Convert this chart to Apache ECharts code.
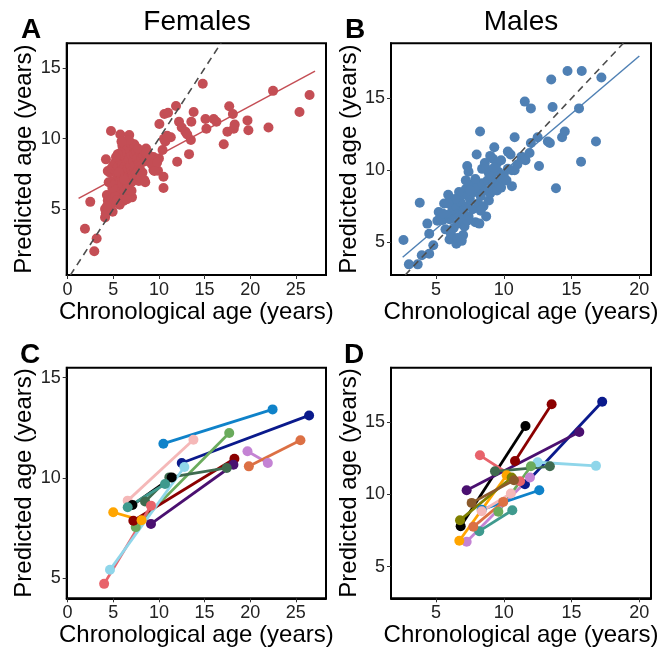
<!DOCTYPE html>
<html>
<head>
<meta charset="utf-8">
<script src="https://cdn.jsdelivr.net/npm/echarts@6/dist/echarts.min.js"></script>
<style>
  html, body { margin: 0; padding: 0; background: #fff; }
  #chart { width: 657px; height: 648px; }
</style>
</head>
<body>
<div id="chart"></div>
<script>
// panel A - females, cross-sectional
const femaleAge = [1.9, 2.48, 3.18, 2.92, 4.93, 4.1, 4.2, 4.3, 4.75, 5.77, 6.75, 6.4, 4.2, 4.4, 4.5,
  6.1, 7.05, 8.59, 8.4, 9.4, 9.9, 9.4, 10.05, 10.6, 11.0, 11.87, 14.8, 13.8, 13.55, 12.2,
  12.5, 12.9, 13.1, 13.5, 13.3, 12.0, 10.4, 10.7, 11.3, 10.5, 10.5, 10.0, 10.55, 10.9,
  15.1, 15.2, 16.0, 16.3, 17.1, 17.7, 18.1, 17.5, 18.2, 18.3, 19.7, 19.8, 22.0, 22.5, 25.4, 26.5,
  4.6, 4.8, 5.0, 5.2, 5.4, 5.5, 5.6, 5.7, 5.8, 5.9, 6.0, 6.0, 6.1, 6.2, 6.3, 6.4, 6.5, 6.5,
  6.6, 6.7, 6.8, 6.9, 7.0, 7.0, 7.1, 7.2, 7.3, 7.4, 7.5, 7.6, 7.8, 8.0, 8.1, 8.3, 8.5, 8.8, 9.0,
  5.0, 5.2, 5.3, 5.5, 5.6, 5.8, 6.0, 6.2, 6.4, 6.6, 6.8, 7.0, 7.2, 7.5, 7.8, 8.0,
  4.3, 4.4, 4.5, 4.6, 4.8, 5.0, 5.2, 5.4, 5.7, 6.3, 4.1, 4.2, 4.3,
  6.0, 6.3, 5.8, 5.5, 6.9, 7.3, 7.7, 8.6, 9.2, 9.8, 9.5, 8.2, 8.5, 7.0, 6.5, 5.6, 6.2, 4.9, 4.7,
  7.9, 5.3, 6.7, 5.9];
const femalePred = [3.6, 5.51, 2.91, 2.0, 4.8, 4.4, 4.7, 4.9, 10.54, 10.3, 10.26, 9.8, 8.53, 7.7, 6.9,
  5.58, 5.83, 9.3, 7.06, 7.77, 7.72, 8.7, 11.04, 11.75, 11.84, 12.32, 13.9, 11.9, 11.2, 11.2,
  10.8, 10.5, 10.3, 9.9, 8.9, 8.36, 9.19, 9.8, 10.1, 7.3, 6.5, 8.6, 10.0, 10.2,
  11.4, 10.7, 11.4, 11.2, 9.6, 12.3, 11.75, 10.5, 10.7, 11.0, 11.3, 10.6, 10.8, 13.4, 11.9, 13.1,
  7.6, 7.9, 8.1, 8.3, 7.5, 8.0, 8.6, 7.2, 8.4, 7.8, 8.2, 8.8, 7.4, 8.0, 8.7, 7.6, 9.0, 8.3,
  7.9, 8.5, 9.2, 8.1, 8.8, 7.7, 9.5, 8.4, 8.9, 8.1, 9.1, 8.6, 8.3, 9.0, 8.6, 8.8, 8.4, 8.9, 8.6,
  7.0, 6.6, 6.2, 6.9, 6.4, 6.0, 6.8, 6.3, 7.0, 6.6, 7.1, 6.9, 7.3, 7.5, 7.0, 7.2,
  6.0, 5.6, 5.3, 5.9, 5.7, 5.4, 5.9, 5.6, 5.3, 5.9, 5.0, 4.7, 5.2,
  9.5, 9.3, 9.0, 8.9, 9.7, 9.6, 9.3, 9.0, 8.2, 8.3, 7.7, 7.6, 6.9, 6.3, 5.7, 7.6, 7.1, 6.5, 6.9,
  8.0, 8.7, 9.9, 9.8];
const femaleFitAge = [1.2, 27.1];
const femaleFitPred = [5.76, 14.8];

// panel B - males, cross-sectional
const maleAge = [2.6, 3.0, 3.65, 3.8, 3.95, 4.36, 4.5, 4.5, 4.8, 5.2, 5.9, 5.6, 5.5, 5.7, 6.0, 6.5, 7.0,
  7.3, 7.4, 8.0, 8.25, 8.4, 8.6, 9.3, 8.9, 9.2, 9.5, 10.3, 10.5, 10.8, 10.6, 10.6,
  11.55, 12.0, 11.3, 11.6, 11.9, 12.0, 12.5, 12.6, 13.25, 13.4, 13.5, 13.6, 13.85, 14.3, 14.5,
  14.7, 15.75, 15.55, 15.7, 16.8, 17.2,
  6.0, 6.2, 6.3, 6.4, 6.5, 6.6, 6.7, 6.8, 6.9, 7.0, 7.0, 7.1, 7.2, 7.3, 7.4, 7.5, 7.6, 7.7, 7.8,
  7.9, 8.0, 8.1, 8.2, 8.3, 8.4, 8.5, 8.6, 8.7, 8.8, 8.9, 9.0, 9.1, 9.2, 9.4, 9.5, 9.6, 9.7, 9.8,
  9.9, 10.0, 10.2, 10.3, 6.1, 6.6, 5.8, 5.3, 5.1, 5.5, 6.9, 7.3, 7.5, 7.2, 6.7, 6.4, 5.9, 8.3,
  8.7, 9.3, 9.0, 10.8, 9.8, 7.9, 11.0];
const malePred = [5.16, 3.47, 3.47, 7.75, 4.1, 6.3, 4.2, 5.6, 4.8, 7.1, 8.3, 7.7, 6.55, 5.9, 5.2, 4.9, 5.5,
  10.3, 9.9, 11.1, 12.7, 10.1, 10.5, 11.6, 9.8, 10.8, 10.5, 11.3, 11.1, 12.3, 8.9, 10.0,
  14.77, 14.3, 10.95, 10.7, 11.2, 11.9, 12.3, 10.3, 12.0, 11.9, 16.3, 14.4, 8.75, 12.3, 12.7,
  16.9, 16.9, 14.3, 10.6, 12.0, 16.45,
  6.6, 7.2, 6.0, 6.9, 7.5, 6.3, 7.0, 7.8, 6.6, 8.3, 7.2, 6.1, 8.7, 7.5, 6.8, 8.0, 9.0, 7.3, 8.5,
  6.4, 8.8, 7.7, 6.3, 8.2, 9.1, 7.5, 8.6, 6.8, 9.3, 7.9, 8.4, 9.6, 8.9, 9.2, 8.6, 9.9, 9.0, 8.8,
  9.4, 9.7, 9.3, 10.1, 5.6, 5.3, 6.9, 6.6, 6.5, 7.0, 5.1, 6.5, 8.6, 9.3, 8.5, 8.0, 7.7, 7.2,
  10.1, 10.2, 11.0, 10.0, 10.7, 9.4, 10.4];
const maleFitAge = [2.54, 20.0];
const maleFitPred = [3.96, 17.94];

// panel C - females, repeated measures (one row per subject)
const femaleVisitAge = [
  [10.49, 22.45], [12.5, 26.45], [6.58, 13.78], [7.46, 17.7], [19.7, 21.93], [19.85, 25.5],
  [7.2, 18.27], [9.13, 18.16], [8.48, 11.14, 17.43], [7.1, 11.4], [6.58, 10.67], [5.0, 8.1],
  [4.0, 9.13], [4.64, 12.79]];
const femaleVisitPred = [
  [11.71, 13.42], [10.75, 13.12], [8.87, 11.91], [7.55, 12.24], [11.33, 10.75], [10.58, 11.88],
  [7.87, 10.96], [7.71, 10.66], [8.83, 10.03, 10.5], [8.65, 10.03], [8.54, 9.7], [8.29, 7.89],
  [4.72, 8.62], [5.42, 10.55]];
const femaleSubjectColors = ['#0f82c9', '#0a1a8c', '#f5b8b8', '#6aab5c', '#c483d4', '#dc7044',
  '#8b0000', '#4a1070', '#3f6b4f', '#000000', '#3f9a8e', '#ffa500', '#e8636b', '#8fd6ea'];

// panel D - males, repeated measures
const maleVisitAge = [
  [6.82, 11.6], [10.83, 13.53], [11.56, 17.26], [7.26, 15.57], [8.24, 11.2], [9.35, 13.4],
  [12.5, 16.8], [9.6, 12.0], [7.26, 11.93], [8.37, 12.62], [8.19, 10.63], [6.72, 10.21],
  [6.77, 10.58], [7.63, 10.75], [7.75, 9.96], [8.37, 10.52]];
const maleVisitPred = [
  [7.8, 14.76], [12.33, 16.26], [10.71, 16.44], [10.3, 14.34], [12.72, 10.92], [11.61, 11.96],
  [12.24, 11.99], [8.8, 11.96], [6.72, 11.18], [8.95, 10.3], [7.46, 8.91], [6.79, 11.34],
  [8.22, 11.18], [9.42, 10.99], [7.76, 9.49], [8.84, 10.07]];
const maleSubjectColors = ['#000000', '#8b0000', '#0a1a8c', '#4a1070', '#e8636b', '#3f6b4f',
  '#8fd6ea', '#6aab5c', '#c483d4', '#0f82c9', '#3f9a8e', '#ffa500', '#808000', '#8b5a2b',
  '#dc7044', '#f5b8b8'];

const femaleTicksX = [0, 5, 10, 15, 20, 25];
const maleTicksX = [5, 10, 15, 20];
const ticksY = [5, 10, 15];

const FONT = '"Liberation Sans", Arial, Helvetica, sans-serif';

const zip = (xs, ys) => xs.map((x, i) => [x, ys[i]]);

const grids = [
  { left: 66.7, top: 43.3, width: 259.3, height: 231.7 },
  { left: 391, top: 43.3, width: 260, height: 231.7 },
  { left: 66.7, top: 367.7, width: 259.3, height: 230.6 },
  { left: 391, top: 367.7, width: 260, height: 230.6 }
].map(g => ({ ...g, show: true, borderColor: '#000', borderWidth: 2, backgroundColor: '#fff',
  containLabel: false, outerBoundsMode: 'none' }));

const xAxisOf = (idx, min, max, ticks) => ({
  type: 'value', gridIndex: idx, min: min, max: max,
  name: 'Chronological age (years)', nameLocation: 'middle', nameGap: 22,
  nameTextStyle: { fontSize: 24, color: '#000', fontFamily: FONT },
  axisLine: { show: true, onZero: false, lineStyle: { color: '#000', width: 2 } },
  axisTick: { show: true, length: 4, customValues: ticks, lineStyle: { color: '#333', width: 1 } },
  axisLabel: { customValues: ticks, fontSize: 18, color: '#222', fontFamily: FONT, margin: 6 },
  splitLine: { show: false }
});
const yAxisOf = (idx, min, max) => ({
  type: 'value', gridIndex: idx, min: min, max: max,
  name: 'Predicted age (years)', nameLocation: 'middle', nameGap: 30,
  nameTextStyle: { fontSize: 24, color: '#000', fontFamily: FONT },
  axisLine: { show: true, onZero: false, lineStyle: { color: '#000', width: 2 } },
  axisTick: { show: true, length: 4, customValues: ticksY, lineStyle: { color: '#333', width: 1 } },
  axisLabel: { customValues: ticksY, fontSize: 18, color: '#222', fontFamily: FONT, margin: 6 },
  splitLine: { show: false }
});

const series = [];

// A
series.push({ type: 'scatter', xAxisIndex: 0, yAxisIndex: 0, symbolSize: 10,
  itemStyle: { color: '#c44e55', opacity: 1 }, data: zip(femaleAge, femalePred), z: 2 });
series.push({ type: 'line', xAxisIndex: 0, yAxisIndex: 0, symbol: 'none', z: 3,
  lineStyle: { color: '#c44e55', width: 1.5 }, data: zip(femaleFitAge, femaleFitPred) });
series.push({ type: 'line', xAxisIndex: 0, yAxisIndex: 0, symbol: 'none', z: 4,
  lineStyle: { color: '#4d4d4d', width: 1.6, type: [7, 5] }, data: [[0.3, 0.3], [16.8, 16.8]] });

// B
series.push({ type: 'scatter', xAxisIndex: 1, yAxisIndex: 1, symbolSize: 10,
  itemStyle: { color: '#4f80b4', opacity: 1 }, data: zip(maleAge, malePred), z: 2 });
series.push({ type: 'line', xAxisIndex: 1, yAxisIndex: 1, symbol: 'none', z: 3,
  lineStyle: { color: '#4f80b4', width: 1.5 }, data: zip(maleFitAge, maleFitPred) });
series.push({ type: 'line', xAxisIndex: 1, yAxisIndex: 1, symbol: 'none', z: 4,
  lineStyle: { color: '#4d4d4d', width: 1.6, type: [7, 5] }, data: [[2.73, 2.73], [18.82, 18.82]] });

// C and D
femaleVisitAge.forEach((ages, i) => {
  series.push({ type: 'line', xAxisIndex: 2, yAxisIndex: 2, symbol: 'circle', symbolSize: 10,
    color: femaleSubjectColors[i], lineStyle: { width: 2.8 }, itemStyle: { opacity: 1 },
    data: zip(ages, femaleVisitPred[i]) });
});
maleVisitAge.forEach((ages, i) => {
  series.push({ type: 'line', xAxisIndex: 3, yAxisIndex: 3, symbol: 'circle', symbolSize: 10,
    color: maleSubjectColors[i], lineStyle: { width: 2.8 }, itemStyle: { opacity: 1 },
    data: zip(ages, maleVisitPred[i]) });
});

const label = (text, x, y, bold, align) => ({
  type: 'text', x: x, y: y,
  style: { text: text, fill: '#000', align: align, verticalAlign: 'middle',
    font: (bold ? 'bold ' : '') + '28px ' + FONT }
});

const chart = echarts.init(document.getElementById('chart'), null, { renderer: 'canvas' });
chart.setOption({
  animation: false,
  backgroundColor: '#fff',
  grid: grids,
  xAxis: [
    xAxisOf(0, -0.1, 28.3, femaleTicksX),
    xAxisOf(1, 1.68, 20.86, maleTicksX),
    xAxisOf(2, -0.1, 28.3, femaleTicksX),
    xAxisOf(3, 1.68, 20.86, maleTicksX)
  ],
  yAxis: [
    yAxisOf(0, 0.31, 16.78),
    yAxisOf(1, 2.73, 18.82),
    yAxisOf(2, 4.0, 15.5),
    yAxisOf(3, 2.8, 18.8)
  ],
  series: series,
  graphic: [
    label('Females', 197, 22, false, 'center'),
    label('Males', 521, 22, false, 'center'),
    label('A', 21, 30, true, 'left'),
    label('B', 345, 30, true, 'left'),
    label('C', 20, 355, true, 'left'),
    label('D', 344, 355, true, 'left')
  ]
});
</script>
</body>
</html>
